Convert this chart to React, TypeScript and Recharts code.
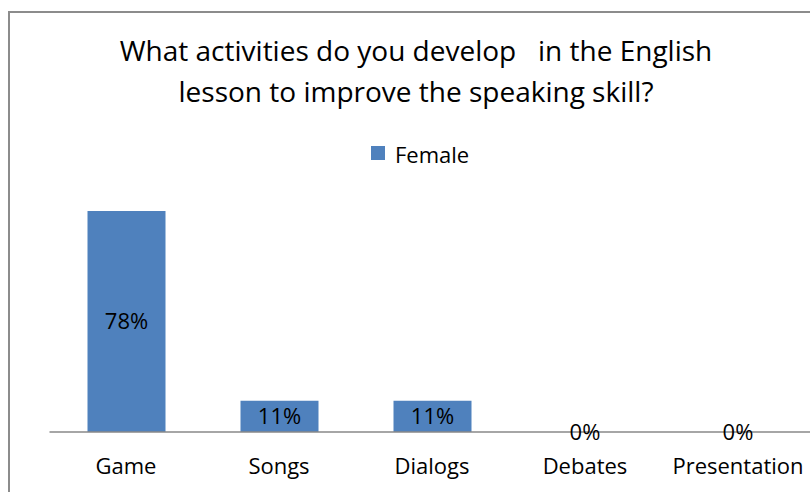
import { ComposedChart, Bar, Line, XAxis, YAxis, Legend, LabelList } from 'recharts';

const categories = ['Game', 'Songs', 'Dialogs', 'Debates', 'Presentation'];
const femaleValues = [78, 11, 11, 0, 0];
const titleLines = [
  'What activities do you develop   in the English',
  'lesson to improve the speaking skill?',
];

const data = categories.map((activity, i) => ({ activity, Female: femaleValues[i] }));

const FONT = '"Open Sans", sans-serif';
const BLUE = '#4F81BD';

function LegendBox(props: any) {
  const items = (props.payload || []).filter((p: any) => p.type !== 'none');
  return (
    <div style={{ display: 'flex', fontFamily: FONT, fontSize: 22, lineHeight: '22px', color: '#000' }}>
      {items.map((item: any) => (
        <div key={item.value} style={{ display: 'flex', alignItems: 'flex-start' }}>
          <span style={{ width: 14, height: 14, background: BLUE, marginTop: 3.5, marginRight: 10 }} />
          <span>{item.value}</span>
        </div>
      ))}
    </div>
  );
}

function labelText(cx: number, cy: number, value: any) {
  return (
    <text x={cx} y={cy} dy="0.355em" textAnchor="middle" fill="#000" fontSize={22} fontFamily={FONT}>
      {`${value}%`}
    </text>
  );
}

// value label in the middle of a bar
function BarValueLabel(props: any) {
  const { x, y, width, height, value } = props;
  if (x == null || y == null) return null;
  return labelText(Number(x) + Number(width || 0) / 2, Number(y) + Number(height || 0) / 2, value);
}

// recharts drops zero-height bars, so the "0%" labels sit on an invisible line
function ZeroValueLabel(props: any) {
  const { x, y, value } = props;
  if (x == null || y == null || Number(value) !== 0) return null;
  return labelText(Number(x), Number(y), value);
}

export default function App() {
  return (
    <div
      style={{
        position: 'fixed',
        left: 0,
        top: 0,
        width: 810,
        height: 492,
        overflow: 'hidden',
        background: '#fff',
      }}
    >
      {/* chart frame, cut off on the right and bottom like the source */}
      <div
        style={{
          position: 'absolute',
          left: 8,
          top: 11,
          width: 900,
          height: 600,
          border: '2px solid #8c8c8c',
          boxSizing: 'border-box',
        }}
      />
      <div
        style={{
          position: 'absolute',
          left: 0,
          top: 30,
          width: 832,
          textAlign: 'center',
          fontFamily: FONT,
          fontSize: 28,
          lineHeight: '41px',
          color: '#000',
          whiteSpace: 'pre',
        }}
      >
        {titleLines.map((line) => (
          <div key={line}>{line}</div>
        ))}
      </div>
      <div style={{ position: 'absolute', left: 0, top: 0 }}>
        <ComposedChart
          width={830}
          height={492}
          data={data}
          margin={{ top: 177, right: 15.5, bottom: 0, left: 49.5 }}
        >
          <XAxis
            dataKey="activity"
            interval={0}
            height={60}
            tickLine={false}
            tickSize={0}
            tickMargin={26}
            axisLine={{ stroke: '#888', strokeWidth: 1.5 }}
            tick={{ fill: '#000', fontSize: 22, fontFamily: FONT }}
          />
          <YAxis hide domain={[0, 90]} />
          <Legend
            verticalAlign="middle"
            align="center"
            layout="horizontal"
            wrapperStyle={{ top: 142.5, left: 371, width: 'auto' }}
            content={LegendBox}
          />
          <Bar dataKey="Female" fill={BLUE} barSize={78} isAnimationActive={false}>
            <LabelList dataKey="Female" content={BarValueLabel} />
          </Bar>
          <Line
            dataKey="Female"
            stroke="none"
            dot={false}
            activeDot={false}
            legendType="none"
            isAnimationActive={false}
          >
            <LabelList dataKey="Female" content={ZeroValueLabel} />
          </Line>
        </ComposedChart>
      </div>
    </div>
  );
}
